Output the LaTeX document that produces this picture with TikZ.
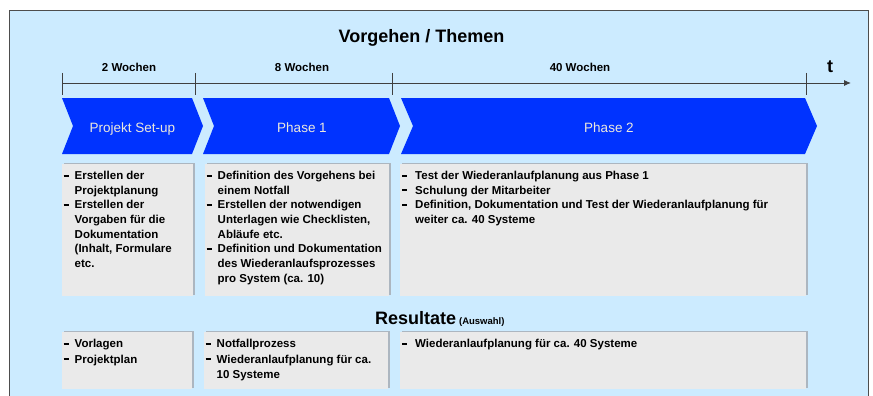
\documentclass[tikz,border=0pt]{standalone}
\usepackage{fontspec}
\setmainfont{Liberation Sans}
\usetikzlibrary{arrows.meta,shadows}
\definecolor{panelblue}{RGB}{204,235,255}
\definecolor{chevblue}{RGB}{0,51,255}
\definecolor{cardgray}{RGB}{234,234,234}
\definecolor{shadowgray}{RGB}{172,182,192}
\definecolor{bordergray}{RGB}{77,77,77}
\definecolor{axisgray}{RGB}{64,64,64}
\definecolor{chevtext}{RGB}{236,232,220}
\newcommand{\dashitem}{\rule[2.8pt]{5pt}{2pt}}
\begin{document}
\begin{tikzpicture}[x=1pt,y=-1pt,
  panel/.style={fill=panelblue, draw=bordergray, line width=1pt},
  chev/.style={fill=chevblue},
  chevlabel/.style={anchor=base, inner sep=0pt, text=chevtext, font=\fontsize{13.5}{16}\selectfont},
  card/.style={anchor=north west, fill=cardgray, inner sep=0pt,
     drop shadow={shadow xshift=1.6pt, shadow yshift=1.6pt, fill=shadowgray, opacity=1}},
  bodytext/.style={anchor=north west, inner sep=0pt, font=\bfseries\fontsize{11.5}{14.7}\selectfont},
  restext/.style={anchor=north west, inner sep=0pt, font=\bfseries\fontsize{11.5}{15.2}\selectfont},
  ticks/.style={draw=axisgray, line width=0.9pt},
  axis/.style={draw=axisgray, line width=0.9pt, -{Latex[length=7pt,width=6pt]}},
  weeks/.style={anchor=base, inner sep=0pt, font=\bfseries\fontsize{11.5}{14}\selectfont},
  heading/.style={anchor=base, inner sep=0pt, font=\bfseries\fontsize{18}{20}\selectfont}
]
\clip (0,0) rectangle (873,396);
\fill[white] (0,0) rectangle (873,396);
\draw[panel] (9.5,10.5) rectangle (868.5,420);

% title
\node[heading] (title) at (421.5,43) {Vorgehen / Themen};

% timeline
\coordinate (ax0) at (62,83);
\coordinate (ax1) at (851,83);
\draw[axis] (ax0) -- (ax1);
\foreach \x/\n in {62/1,195/2,392/3,806/4}{
  \coordinate (tk\n a) at (\x,73);
  \coordinate (tk\n b) at (\x,95);
  \draw[ticks] (tk\n a) -- (tk\n b);
}
\node[weeks] (w1) at (129,72) {2 Wochen};
\node[weeks] (w2) at (302,72) {8 Wochen};
\node[weeks] (w3) at (580,72) {40 Wochen};
\node[anchor=base, inner sep=0pt, font=\bfseries\fontsize{18}{20}\selectfont] (tlabel) at (830,72.5) {t};

% chevrons
\fill[chev] (62,98) -- (192,98) -- (203,126) -- (192,154) -- (62,154) -- (73,126) -- cycle;
\fill[chev] (203,98) -- (389,98) -- (400,126) -- (389,154) -- (203,154) -- (214,126) -- cycle;
\fill[chev] (401,98) -- (805,98) -- (817,126) -- (805,154) -- (401,154) -- (413,126) -- cycle;
\node[chevlabel] (p0) at (132.5,132) {Projekt Set-up};
\node[chevlabel] (p1) at (302,132) {Phase 1};
\node[chevlabel] (p2) at (609,132) {Phase 2};

% activity cards
\node[card, minimum width=131pt, minimum height=132pt] (a1) at (62,164) {};
\node[card, minimum width=184pt, minimum height=132pt] (a2) at (205,164) {};
\node[card, minimum width=406pt, minimum height=132pt] (a3) at (400,164) {};

\node[bodytext] (a1t) at ([shift={(1.5pt,-5pt)}]a1.north west) {%
\begin{tabular}{@{}p{11pt}@{}l@{}}
\dashitem & Erstellen der\\
 & Projektplanung\\
\dashitem & Erstellen der\\
 & Vorgaben für die\\
 & Dokumentation\\
 & (Inhalt, Formulare\\
 & etc.
\end{tabular}};

\node[bodytext] (a2t) at ([shift={(1.5pt,-5pt)}]a2.north west) {%
\begin{tabular}{@{}p{11pt}@{}l@{}}
\dashitem & Definition des Vorgehens bei\\
 & einem Notfall\\
\dashitem & Erstellen der notwendigen\\
 & Unterlagen wie Checklisten,\\
 & Abläufe etc.\\
\dashitem & Definition und Dokumentation\\
 & des Wiederanlaufsprozesses\\
 & pro System (ca. 10)
\end{tabular}};

\node[bodytext] (a3t) at ([shift={(2pt,-5pt)}]a3.north west) {%
\begin{tabular}{@{}p{13pt}@{}l@{}}
\dashitem & Test der Wiederanlaufplanung aus Phase 1\\
\dashitem & Schulung der Mitarbeiter\\
\dashitem & Definition, Dokumentation und Test der Wiederanlaufplanung für\\
 & weiter ca. 40 Systeme
\end{tabular}};

% results heading
\node[anchor=base west, inner sep=0pt, font=\bfseries\fontsize{18}{20}\selectfont] (res) at (375,324.5) {Resultate};
\node[anchor=base west, inner sep=0pt, font=\bfseries\fontsize{9.5}{11}\selectfont] (resx) at ([xshift=2.5pt]res.base east) {(Auswahl)};

% result cards
\node[card, minimum width=130pt, minimum height=57pt] (b1) at (62,332) {};
\node[card, minimum width=184pt, minimum height=57pt] (b2) at (204,332) {};
\node[card, minimum width=406pt, minimum height=57pt] (b3) at (400,332) {};

\node[restext] (b1t) at ([shift={(1.5pt,-5pt)}]b1.north west) {%
\begin{tabular}{@{}p{11pt}@{}l@{}}
\dashitem & Vorlagen\\
\dashitem & Projektplan
\end{tabular}};

\node[restext] (b2t) at ([shift={(1.5pt,-5pt)}]b2.north west) {%
\begin{tabular}{@{}p{11pt}@{}l@{}}
\dashitem & Notfallprozess\\
\dashitem & Wiederanlaufplanung für ca.\\
 & 10 Systeme
\end{tabular}};

\node[restext] (b3t) at ([shift={(2pt,-5pt)}]b3.north west) {%
\begin{tabular}{@{}p{13pt}@{}l@{}}
\dashitem & Wiederanlaufplanung für ca. 40 Systeme
\end{tabular}};
\end{tikzpicture}
\end{document}
